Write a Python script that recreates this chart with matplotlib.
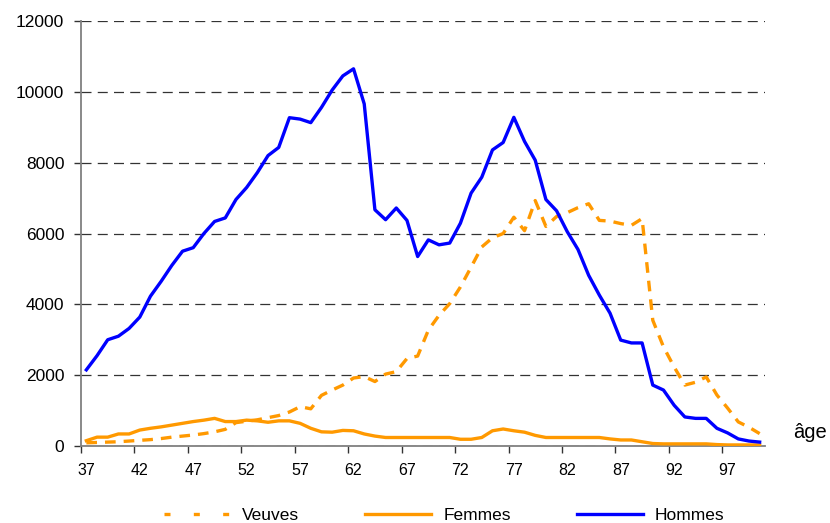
import matplotlib
matplotlib.use("Agg")
import matplotlib.pyplot as plt
from matplotlib.lines import Line2D
import numpy as np

plt.rcParams['font.family'] = ['Liberation Sans', 'DejaVu Sans']

ages = list(range(37, 101))

hommes = [2150, 2550, 3000, 3100, 3320, 3640, 4230, 4650, 5100, 5500,
          5600, 6000, 6340, 6440, 6960, 7300, 7720, 8200, 8430, 9270,
          9230, 9130, 9560, 10050, 10450, 10650, 9660, 6670, 6390, 6720,
          6370, 5350, 5820, 5680, 5730, 6290, 7140, 7590, 8360, 8570,
          9280, 8600, 8070, 6960, 6640, 6050, 5550, 4820, 4260, 3750,
          2990, 2910, 2910, 1720, 1580, 1150, 820, 780, 780, 500,
          370, 200, 140, 110]

veuves = [90, 100, 110, 120, 140, 160, 180, 210, 250, 280,
          310, 350, 400, 470, 660, 700, 740, 800, 860, 960,
          1110, 1050, 1430, 1580, 1720, 1920, 1960, 1820, 2030, 2100,
          2470, 2540, 3270, 3690, 4020, 4490, 5050, 5620, 5880, 6000,
          6460, 6080, 6930, 6200, 6480, 6590, 6730, 6840, 6370, 6350,
          6280, 6230, 6420, 3550, 2800, 2230, 1720, 1800, 1950, 1440,
          1070, 680, 530, 350]

femmes = [150, 250, 250, 340, 340, 450, 500, 540, 590, 640,
          690, 730, 780, 690, 690, 730, 710, 670, 710, 710,
          640, 500, 400, 390, 440, 430, 340, 280, 240, 240,
          240, 240, 240, 240, 240, 190, 190, 240, 430, 480,
          430, 390, 300, 240, 240, 240, 240, 240, 240, 200,
          170, 170, 120, 70, 60, 60, 60, 60, 60, 40,
          30, 30, 30, 30]

tick_labels = [str(a) for a in ages[::5]]
y_ticks = [0, 2000, 4000, 6000, 8000, 10000, 12000]

orange = '#FF9900'
blue = '#0000FF'

W, H = 830, 523
fig = plt.figure(figsize=(W / 100, H / 100), dpi=100)
ax = fig.add_axes([81 / W, 1 - 446 / H, (765 - 81) / W, (446 - 21) / H])

x = np.arange(len(ages))
ax.plot(x, veuves, color=orange, lw=2.4, dashes=(3.2, 2.4), solid_capstyle='butt',
        dash_capstyle='butt', zorder=3)
ax.plot(x, femmes, color=orange, lw=2.4, solid_joinstyle='round', zorder=3)
ax.plot(x, hommes, color=blue, lw=2.4, solid_joinstyle='round', zorder=4)

ax.set_xlim(-0.5, len(ages) - 0.5)
ax.set_ylim(0, 12000)

ax.set_yticks(y_ticks)
ax.set_yticklabels([str(v) for v in y_ticks])
ax.yaxis.grid(True, color='#333333', lw=0.9, linestyle=(0, (8, 5)))
ax.set_axisbelow(True)

# major ticks at category boundaries, labels at category centers
ax.set_xticks(np.arange(-0.5, len(ages) - 1, 5))
ax.set_xticklabels([])
ax.set_xticks(x[::5], minor=True)
ax.set_xticklabels(tick_labels, minor=True)
ax.tick_params(axis='x', which='major', length=5, width=1, color='#333333', direction='out')
ax.tick_params(axis='x', which='minor', length=0, pad=12, labelsize=11.5)
ax.tick_params(axis='y', length=5, width=1, color='#333333', direction='out', pad=7,
               labelsize=12.5)

for s in ['top', 'right']:
    ax.spines[s].set_visible(False)
for s in ['left', 'bottom']:
    ax.spines[s].set_color('#808080')
    ax.spines[s].set_linewidth(1.3)

fig.text(810 / W, 1 - 432 / H, 'âge', fontsize=14.5, ha='center', va='center')

handles = [
    Line2D([], [], color=orange, lw=2.4, dashes=(1.8, 7)),
    Line2D([], [], color=orange, lw=2.4),
    Line2D([], [], color=blue, lw=2.4),
]
fig.legend(handles, ['Veuves', 'Femmes', 'Hommes'], loc='center left',
           bbox_to_anchor=(164 / W, 1 - 515 / H), ncol=3, frameon=False,
           fontsize=12.5, handlelength=3.8, handletextpad=0.7, columnspacing=3.8,
           borderpad=0, borderaxespad=0)

fig.savefig('out.png', dpi=100)
